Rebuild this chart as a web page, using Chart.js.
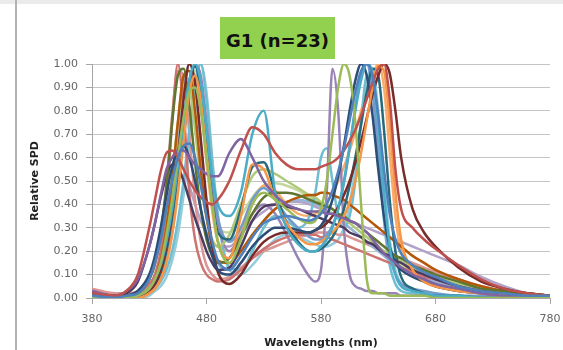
<!DOCTYPE html>
<html>
<head>
<meta charset="utf-8">
<script src="https://cdn.jsdelivr.net/npm/chart.js@4.4.1/dist/chart.umd.min.js"></script>
<style>
  body { margin: 0; background: #fff; }
  #wrap { position: relative; width: 563px; height: 350px; overflow: hidden; }
  #topbar { position: absolute; left: 0; top: 0; width: 563px; height: 4px; background: #ebebeb; }
  #frame { position: absolute; left: 15px; top: 0; width: 2px; height: 350px; background: #b4b4b4; }
  #title { position: absolute; left: 220px; top: 17px; width: 115px; height: 42px; background: #92D050;
           font: bold 18px "DejaVu Sans"; color: #111; text-align: center; line-height: 47px; }
</style>
</head>
<body>
<div id="wrap">
  <canvas id="spd" width="563" height="350"></canvas>
  <div id="topbar"></div>
  <div id="frame"></div>
  <div id="title">G1 (n=23)</div>
</div>
<script>
var wavelengths = [380,400,410,420,430, 435,440,445,450,455,460,465,470,475,480,485,490, 500,510,520,530,540,550,560,570, 575,580,585,590,595,600,605,610,615,620,625,630,635,640,645,650, 660,670,680,700,720,740,760,780];

var s1  = [0.01,0.00,0.01,0.02,0.08, 0.15,0.25,0.38,0.50,0.60,0.65,0.66,0.60,0.48,0.35,0.24,0.16, 0.12,0.18,0.26,0.32,0.34,0.35,0.34,0.33, 0.34,0.36,0.40,0.46,0.54,0.64,0.76,0.88,0.97,1.00,0.95,0.78,0.55,0.36,0.25,0.19, 0.14,0.11,0.09,0.05,0.03,0.02,0.01,0.01];
var s2  = [0.02,0.01,0.03,0.10,0.30, 0.42,0.54,0.62,0.63,0.60,0.55,0.50,0.46,0.43,0.41,0.40,0.42, 0.50,0.63,0.73,0.70,0.62,0.57,0.55,0.55, 0.55,0.56,0.57,0.58,0.60,0.63,0.67,0.72,0.78,0.85,0.92,0.98,1.00,0.85,0.55,0.38, 0.30,0.25,0.21,0.14,0.08,0.04,0.02,0.01];
var s3  = [0.00,0.00,0.00,0.01,0.04, 0.08,0.15,0.27,0.42,0.60,0.77,0.88,0.90,0.80,0.60,0.40,0.24, 0.15,0.25,0.40,0.45,0.42,0.38,0.34,0.32, 0.33,0.38,0.50,0.70,0.90,1.00,0.95,0.75,0.40,0.08,0.02,0.02,0.02,0.01,0.01,0.01, 0.01,0.01,0.00,0.00,0.00,0.00,0.00,0.00];
var s4  = [0.03,0.01,0.03,0.08,0.22, 0.32,0.44,0.55,0.60,0.63,0.63,0.60,0.57,0.55,0.53,0.52,0.52, 0.62,0.68,0.60,0.50,0.44,0.40,0.38,0.37, 0.37,0.37,0.36,0.36,0.35,0.34,0.33,0.32,0.30,0.28,0.25,0.22,0.19,0.17,0.15,0.13, 0.10,0.08,0.06,0.04,0.02,0.01,0.01,0.00];
var s5  = [0.00,0.00,0.00,0.01,0.04, 0.08,0.14,0.24,0.38,0.56,0.76,0.93,1.00,0.92,0.72,0.52,0.40, 0.35,0.45,0.70,0.80,0.45,0.30,0.23,0.20, 0.20,0.22,0.25,0.30,0.38,0.50,0.65,0.80,0.93,1.00,0.96,0.75,0.45,0.22,0.10,0.05, 0.03,0.02,0.01,0.01,0.00,0.00,0.00,0.00];
var s6  = [0.00,0.00,0.00,0.00,0.02, 0.04,0.08,0.15,0.27,0.45,0.68,0.88,0.95,0.85,0.62,0.40,0.24, 0.17,0.35,0.57,0.55,0.42,0.32,0.26,0.23, 0.23,0.24,0.26,0.28,0.31,0.35,0.41,0.50,0.62,0.76,0.90,0.99,0.97,0.75,0.45,0.25, 0.12,0.07,0.05,0.03,0.02,0.01,0.01,0.00];
var s7  = [0.01,0.00,0.01,0.03,0.10, 0.18,0.30,0.44,0.56,0.63,0.65,0.60,0.50,0.38,0.27,0.18,0.12, 0.10,0.15,0.22,0.27,0.30,0.30,0.29,0.28, 0.29,0.31,0.35,0.42,0.52,0.65,0.80,0.93,1.00,0.95,0.78,0.55,0.35,0.22,0.15,0.12, 0.09,0.07,0.05,0.03,0.02,0.01,0.01,0.00];
var s8  = [0.00,0.00,0.00,0.01,0.03, 0.06,0.12,0.22,0.38,0.60,0.85,1.00,0.92,0.68,0.42,0.22,0.11, 0.06,0.10,0.18,0.24,0.27,0.28,0.28,0.28, 0.29,0.30,0.32,0.35,0.39,0.44,0.50,0.58,0.67,0.77,0.87,0.95,1.00,0.96,0.80,0.60, 0.38,0.28,0.22,0.13,0.07,0.04,0.02,0.01];
var s9  = [0.00,0.00,0.01,0.02,0.08, 0.15,0.28,0.48,0.75,0.95,0.98,0.82,0.58,0.38,0.25,0.18,0.15, 0.17,0.26,0.36,0.43,0.45,0.45,0.44,0.42, 0.41,0.40,0.39,0.38,0.36,0.35,0.33,0.32,0.30,0.28,0.26,0.24,0.22,0.20,0.18,0.17, 0.14,0.12,0.10,0.07,0.04,0.03,0.02,0.01];
var s10 = [0.02,0.01,0.02,0.07,0.22, 0.32,0.43,0.52,0.57,0.56,0.50,0.42,0.34,0.27,0.20,0.15,0.12, 0.13,0.22,0.33,0.39,0.40,0.39,0.38,0.36, 0.35,0.34,0.33,0.32,0.31,0.30,0.28,0.27,0.26,0.24,0.23,0.21,0.19,0.18,0.16,0.15, 0.12,0.10,0.08,0.05,0.03,0.02,0.01,0.01];
var s11 = [0.00,0.00,0.00,0.01,0.03, 0.06,0.11,0.20,0.34,0.53,0.75,0.93,0.99,0.88,0.64,0.42,0.28, 0.25,0.38,0.56,0.58,0.45,0.32,0.24,0.20, 0.20,0.21,0.23,0.26,0.31,0.38,0.48,0.60,0.74,0.88,0.98,0.95,0.72,0.42,0.20,0.09, 0.04,0.02,0.01,0.01,0.00,0.00,0.00,0.00];
var s12 = [0.00,0.00,0.00,0.01,0.04, 0.08,0.16,0.30,0.50,0.75,0.95,0.97,0.80,0.55,0.35,0.22,0.16, 0.15,0.20,0.27,0.33,0.38,0.41,0.43,0.44, 0.44,0.45,0.45,0.44,0.43,0.42,0.40,0.38,0.36,0.34,0.32,0.30,0.28,0.26,0.24,0.22, 0.18,0.15,0.12,0.08,0.05,0.03,0.02,0.01];
var s13 = [0.00,0.00,0.00,0.01,0.03, 0.05,0.10,0.18,0.30,0.48,0.70,0.90,1.00,0.93,0.72,0.50,0.34, 0.24,0.30,0.42,0.47,0.42,0.35,0.30,0.26, 0.25,0.25,0.27,0.31,0.38,0.49,0.64,0.82,0.96,1.00,0.88,0.62,0.35,0.18,0.10,0.06, 0.04,0.03,0.02,0.01,0.01,0.00,0.00,0.00];
var s14 = [0.03,0.01,0.01,0.02,0.06, 0.10,0.20,0.40,0.75,1.00,0.80,0.45,0.25,0.15,0.10,0.08,0.07, 0.08,0.12,0.17,0.21,0.24,0.26,0.27,0.27, 0.27,0.26,0.26,0.25,0.24,0.23,0.22,0.21,0.20,0.19,0.18,0.17,0.16,0.15,0.14,0.13, 0.11,0.09,0.08,0.05,0.03,0.02,0.01,0.01];
var s15 = [0.00,0.00,0.00,0.01,0.05, 0.10,0.18,0.32,0.52,0.75,0.92,0.90,0.72,0.50,0.34,0.25,0.22, 0.27,0.40,0.52,0.55,0.53,0.50,0.47,0.44, 0.43,0.41,0.40,0.38,0.36,0.34,0.32,0.30,0.28,0.26,0.24,0.22,0.20,0.19,0.17,0.16, 0.13,0.11,0.09,0.06,0.04,0.02,0.01,0.01];
var s16 = [0.02,0.01,0.01,0.02,0.04, 0.07,0.12,0.20,0.32,0.48,0.68,0.88,0.99,0.95,0.75,0.50,0.32, 0.20,0.27,0.36,0.40,0.36,0.27,0.17,0.09, 0.07,0.12,0.45,0.98,0.80,0.30,0.10,0.05,0.04,0.03,0.03,0.02,0.02,0.02,0.02,0.01, 0.01,0.01,0.01,0.00,0.00,0.00,0.00,0.00];
var s17 = [0.00,0.00,0.00,0.00,0.02, 0.04,0.07,0.12,0.20,0.33,0.50,0.72,0.92,1.00,0.85,0.58,0.35, 0.13,0.12,0.20,0.30,0.35,0.33,0.30,0.35, 0.45,0.60,0.64,0.50,0.35,0.30,0.35,0.50,0.75,0.95,0.92,0.65,0.33,0.14,0.06,0.03, 0.02,0.01,0.01,0.00,0.00,0.00,0.00,0.00];
var s18 = [0.00,0.00,0.00,0.01,0.03, 0.06,0.10,0.18,0.30,0.48,0.70,0.88,0.93,0.82,0.58,0.37,0.24, 0.20,0.28,0.40,0.48,0.46,0.40,0.36,0.35, 0.36,0.38,0.41,0.45,0.50,0.56,0.63,0.71,0.80,0.88,0.95,1.00,0.90,0.62,0.35,0.20, 0.10,0.07,0.05,0.03,0.02,0.01,0.01,0.00];
var s19 = [0.00,0.00,0.00,0.01,0.04, 0.08,0.15,0.27,0.44,0.65,0.88,1.00,0.90,0.65,0.40,0.24,0.15, 0.12,0.18,0.26,0.33,0.38,0.41,0.42,0.41, 0.40,0.39,0.37,0.36,0.34,0.32,0.30,0.28,0.26,0.24,0.22,0.20,0.18,0.16,0.15,0.13, 0.11,0.09,0.07,0.04,0.03,0.02,0.01,0.01];
var s20 = [0.04,0.02,0.02,0.03,0.08, 0.14,0.26,0.48,0.78,0.97,0.95,0.70,0.42,0.24,0.14,0.10,0.08, 0.09,0.13,0.17,0.20,0.22,0.24,0.26,0.27, 0.28,0.28,0.28,0.28,0.27,0.27,0.26,0.25,0.24,0.23,0.22,0.21,0.20,0.19,0.18,0.17, 0.15,0.13,0.11,0.08,0.05,0.03,0.02,0.01];
var s21 = [0.00,0.00,0.00,0.00,0.02, 0.05,0.09,0.16,0.28,0.45,0.67,0.87,0.97,0.88,0.64,0.42,0.30, 0.28,0.35,0.43,0.48,0.49,0.48,0.46,0.43, 0.42,0.40,0.38,0.36,0.34,0.32,0.30,0.28,0.26,0.24,0.22,0.20,0.19,0.17,0.16,0.14, 0.12,0.10,0.08,0.05,0.03,0.02,0.01,0.01];
var s22 = [0.02,0.01,0.01,0.03,0.09, 0.16,0.26,0.38,0.50,0.56,0.55,0.48,0.40,0.33,0.28,0.24,0.22, 0.22,0.27,0.33,0.37,0.40,0.41,0.41,0.40, 0.39,0.38,0.37,0.36,0.35,0.34,0.33,0.32,0.31,0.30,0.29,0.28,0.27,0.26,0.25,0.24, 0.22,0.20,0.18,0.14,0.09,0.05,0.02,0.01];
var s23 = [0.00,0.00,0.00,0.00,0.01, 0.03,0.05,0.09,0.16,0.27,0.44,0.66,0.88,1.00,0.88,0.60,0.35, 0.12,0.10,0.14,0.20,0.25,0.27,0.26,0.24, 0.23,0.22,0.22,0.23,0.25,0.30,0.40,0.56,0.76,0.93,0.98,0.80,0.50,0.25,0.12,0.06, 0.03,0.02,0.01,0.01,0.00,0.00,0.00,0.00];

var allSeries = [s1,s2,s3,s4,s5,s6,s7,s8,s9,s10,s11,s12,s13,s14,s15,s16,s17,s18,s19,s20,s21,s22,s23];
var seriesColors = ['#4F81BD','#C0504D','#9BBB59','#8064A2','#4BACC6','#F79646',
                    '#2C4D75','#772C2A','#5F7530','#4D3B62','#276A7C','#B65708',
                    '#729ACA','#CD7371','#AFC97A','#9983B5','#6FBDD1','#F9AB6B',
                    '#95B3D7','#D99694','#C3D69B','#B3A2C7','#93CDDD'];
var yTicks = [0,0.1,0.2,0.3,0.4,0.5,0.6,0.7,0.8,0.9,1.0];
var xTicks = [380,480,580,680,780];

var ctx = document.getElementById('spd').getContext('2d');

var datasets = allSeries.map(function(vals, k) {
    return {
        label: 'S' + (k + 1),
        data: vals.map(function(v, i) { return {x: wavelengths[i], y: v}; }),
        borderColor: seriesColors[k],
        borderWidth: 2.5,
        pointRadius: 0,
        fill: false,
        cubicInterpolationMode: 'monotone'
    };
});

var chart = new Chart(ctx, {
    type: 'line',
    data: { datasets: datasets },
    options: {
        responsive: false,
        animation: false,
        layout: { padding: { left: 0, right: 13, top: 64, bottom: 0 } },
        plugins: { legend: { display: false }, tooltip: { enabled: false } },
        scales: {
            x: {
                type: 'linear',
                min: 380, max: 780,
                afterFit: function(s) { s.height = 52; s.paddingLeft = 0; s.paddingRight = 0; },
                afterBuildTicks: function(s) { s.ticks = xTicks.map(function(v) { return {value: v}; }); },
                grid: { drawOnChartArea: false, drawTicks: true, tickLength: 6, color: '#a6a6a6' },
                border: { display: true, color: '#a6a6a6' },
                ticks: { padding: 9, color: '#666', font: { family: 'DejaVu Sans', size: 11 }, maxRotation: 0 },
                title: { display: true, text: 'Wavelengths (nm)', color: '#222',
                         font: { family: 'DejaVu Sans', size: 11, weight: 'bold' }, padding: { top: 0, bottom: 0 } }
            },
            y: {
                min: 0, max: 1,
                afterFit: function(s) { s.width = 92; s.paddingTop = 0; s.paddingBottom = 0; },
                afterBuildTicks: function(s) { s.ticks = yTicks.map(function(v) { return {value: v}; }); },
                grid: { color: '#c4c4c4', lineWidth: 1, drawTicks: true, tickLength: 6, tickColor: '#a6a6a6' },
                border: { display: true, color: '#a6a6a6' },
                ticks: { padding: 8, color: '#666', font: { family: 'DejaVu Sans', size: 11 },
                         callback: function(v) { return v.toFixed(2); } },
                title: { display: true, text: 'Relative SPD', color: '#222',
                         font: { family: 'DejaVu Sans', size: 11, weight: 'bold' }, padding: { top: 29, bottom: 0 } }
            }
        }
    }
});
</script>
</body>
</html>
